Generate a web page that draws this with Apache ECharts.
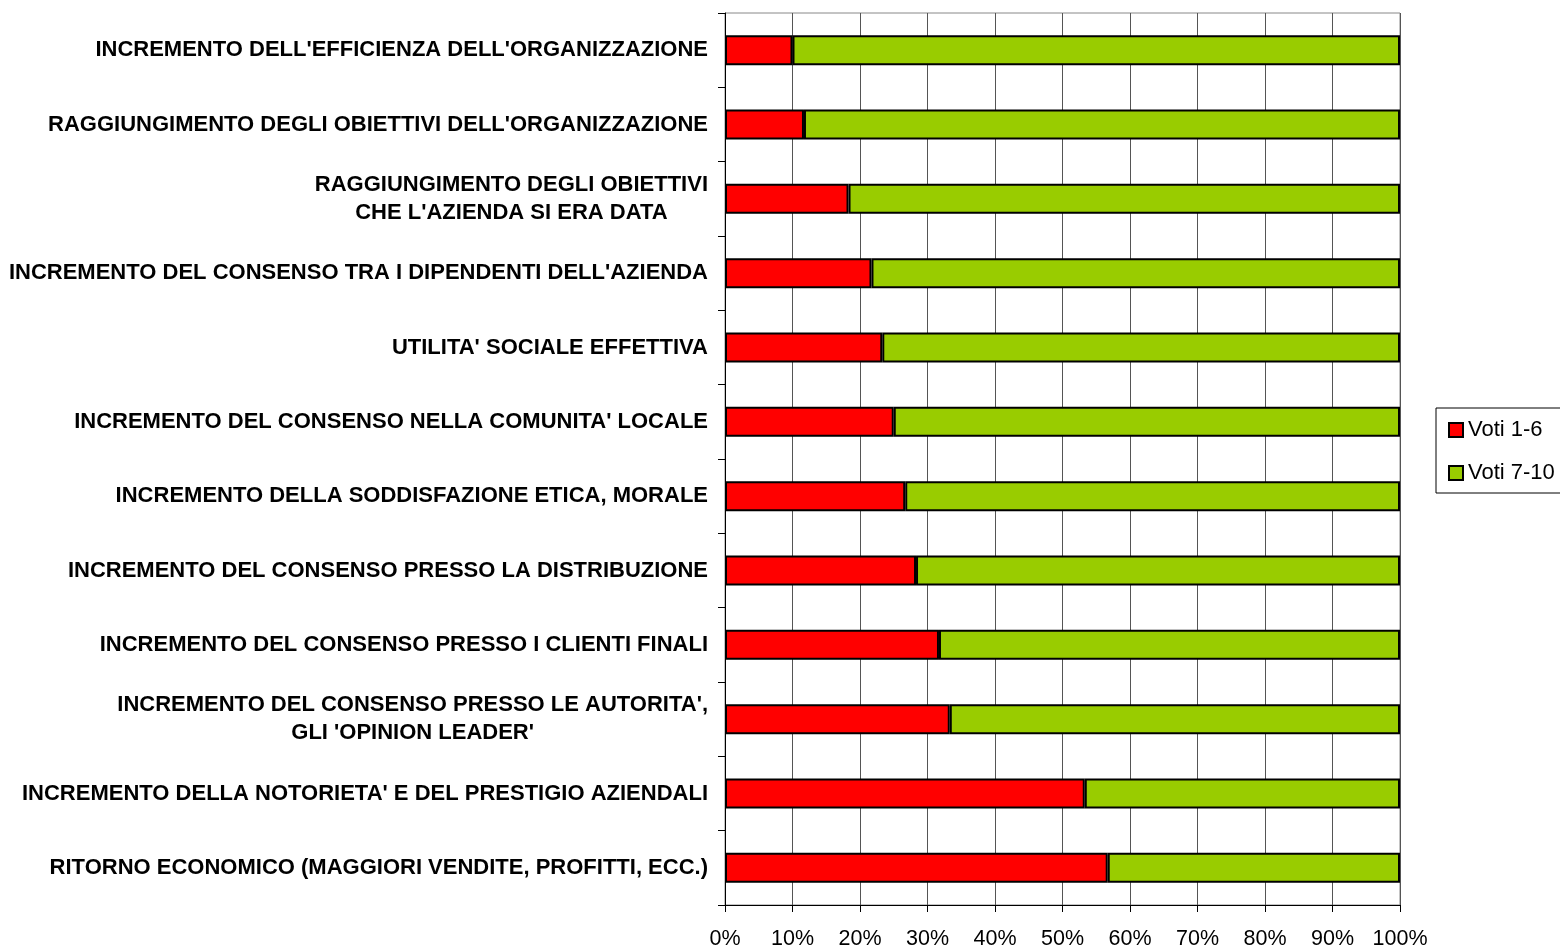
<!DOCTYPE html>
<html>
<head>
<meta charset="utf-8">
<script src="https://cdn.jsdelivr.net/npm/echarts@6/dist/echarts.min.js"></script>
<style>
  html, body { margin: 0; padding: 0; background: #fff; }
  #chart { width: 1560px; height: 947px; }
</style>
</head>
<body>
<div id="chart"></div>
<script>
// categories, top to bottom
const categories = [
  "INCREMENTO DELL'EFFICIENZA DELL'ORGANIZZAZIONE",
  "RAGGIUNGIMENTO DEGLI OBIETTIVI DELL'ORGANIZZAZIONE",
  "RAGGIUNGIMENTO DEGLI OBIETTIVI\nCHE L'AZIENDA SI ERA DATA",
  "INCREMENTO DEL CONSENSO TRA I DIPENDENTI DELL'AZIENDA",
  "UTILITA' SOCIALE EFFETTIVA",
  "INCREMENTO DEL CONSENSO NELLA COMUNITA' LOCALE",
  "INCREMENTO DELLA SODDISFAZIONE ETICA, MORALE",
  "INCREMENTO DEL CONSENSO PRESSO LA DISTRIBUZIONE",
  "INCREMENTO DEL CONSENSO PRESSO I CLIENTI FINALI",
  "INCREMENTO DEL CONSENSO PRESSO LE AUTORITA',\nGLI 'OPINION LEADER'",
  "INCREMENTO DELLA NOTORIETA' E DEL PRESTIGIO AZIENDALI",
  "RITORNO ECONOMICO (MAGGIORI VENDITE, PROFITTI, ECC.)"
]

// share of answers, percent
const voti1to6 = [10.0, 11.7, 18.3, 21.7, 23.3, 25.0, 26.7, 28.3, 31.7, 33.3, 53.3, 56.7]
const voti7to10 = [90.0, 88.3, 81.7, 78.3, 76.7, 75.0, 73.3, 71.7, 68.3, 66.7, 46.7, 43.3]

const seriesNames = ['Voti 1-6', 'Voti 7-10']
const seriesColors = ['#ff0000', '#99cc00']

const FONT = "'Liberation Sans', Arial, sans-serif"

const chart = echarts.init(document.getElementById('chart'))

const barStyle = color => ({
  color: color,
  borderColor: '#000',
  borderWidth: 2
})

const option = {
  animation: false,
  backgroundColor: '#fff',
  grid: {
    left: 725,
    top: 13,
    width: 675,
    height: 892,
    outerBoundsMode: 'none',
    containLabel: false,
    show: true,
    borderColor: '#888',
    borderWidth: 1
  },
  legend: {
    orient: 'vertical',
    left: 1436,
    top: 408,
    padding: [11, 14, 9, 12],
    itemWidth: 14,
    itemHeight: 14,
    itemGap: 21,
    icon: 'rect',
    borderColor: '#000',
    borderWidth: 1,
    backgroundColor: '#fff',
    textStyle: { fontFamily: FONT, fontSize: 22, color: '#000' },
    data: seriesNames
  },
  xAxis: {
    type: 'value',
    min: 0,
    max: 100,
    interval: 10,
    axisLine: { show: true, lineStyle: { color: '#000', width: 1 } },
    axisTick: { show: true, length: 7, lineStyle: { color: '#000' } },
    splitLine: { show: true, lineStyle: { color: '#555', width: 1 } },
    axisLabel: {
      margin: 23,
      formatter: '{value}%',
      fontFamily: FONT,
      fontSize: 21.5,
      color: '#000'
    }
  },
  yAxis: {
    type: 'category',
    inverse: true,
    data: categories,
    axisLine: { show: true, lineStyle: { color: '#000', width: 1 } },
    axisTick: { show: true, length: 7, lineStyle: { color: '#000' } },
    splitLine: { show: false },
    axisLabel: {
      margin: 17,
      fontFamily: FONT,
      fontSize: 22,
      fontWeight: 'bold',
      color: '#000',
      lineHeight: 28,
      // two-line labels: lines centred on each other, block right-aligned
      formatter: v => v.split('\n').map(s => '{c|' + s + '}').join('\n'),
      rich: {
        c: {
          align: 'center',
          fontFamily: FONT,
          fontSize: 22,
          fontWeight: 'bold',
          lineHeight: 28,
          color: '#000'
        }
      }
    }
  },
  series: [
    {
      name: seriesNames[0],
      type: 'bar',
      stack: 'tot',
      barWidth: 30,
      itemStyle: barStyle(seriesColors[0]),
      data: voti1to6
    },
    {
      name: seriesNames[1],
      type: 'bar',
      stack: 'tot',
      barWidth: 30,
      itemStyle: barStyle(seriesColors[1]),
      data: voti7to10
    }
  ]
}

chart.setOption(option)
</script>
</body>
</html>
